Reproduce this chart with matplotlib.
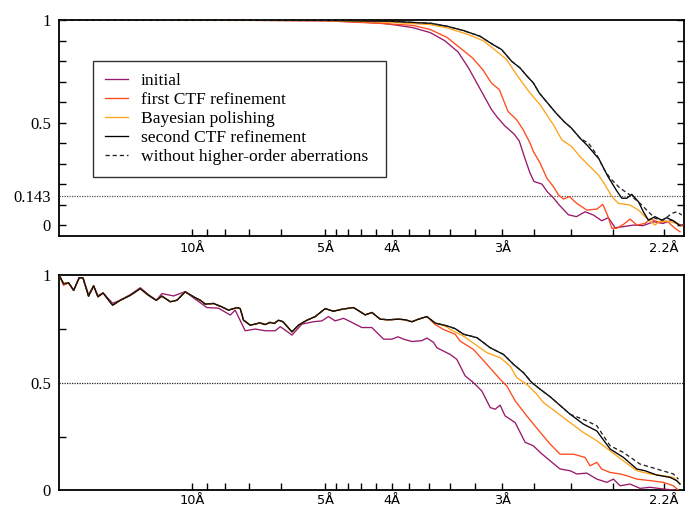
import matplotlib
matplotlib.use('Agg')
import matplotlib.pyplot as plt

# ---------------- data (spatial frequency in 1/Angstrom, FSC) ----------------
# Top panel
init_top_s = [0.0, 0.14, 0.2, 0.215, 0.241, 0.254, 0.266, 0.279, 0.290, 0.300, 0.308, 0.3165,
              0.325, 0.329, 0.335, 0.342, 0.346, 0.350, 0.354, 0.357, 0.363, 0.367, 0.372, 0.376,
              0.383, 0.389, 0.3955, 0.4017, 0.408, 0.413, 0.418, 0.424, 0.432, 0.439, 0.447, 0.454,
              0.461, 0.466, 0.4695]
init_top = [1.0, 1.0, 0.997, 0.994, 0.987, 0.976, 0.964, 0.94, 0.90, 0.845, 0.765, 0.665,
            0.565, 0.53, 0.485, 0.445, 0.41, 0.33, 0.255, 0.213, 0.200, 0.163, 0.13, 0.098,
            0.05, 0.041, 0.065, 0.049, 0.021, 0.036, -0.013, -0.008, 0.0, -0.003, 0.016, 0.008,
            0.024, 0.003, 0.0]

ctf1_top_s = [0.0, 0.15, 0.2, 0.241, 0.266, 0.279, 0.2915, 0.3015, 0.311, 0.3185, 0.325, 0.331,
              0.3375, 0.344, 0.349, 0.3541, 0.3566, 0.3617, 0.3667, 0.3717, 0.3755, 0.3792, 0.3837,
              0.3892, 0.3968, 0.4043, 0.4088, 0.4123, 0.4156, 0.4193, 0.4243, 0.4293, 0.4344,
              0.4406, 0.4444, 0.4519, 0.4569, 0.4632, 0.4669]
ctf1_top = [1.0, 1.0, 0.998, 0.985, 0.975, 0.955, 0.917, 0.865, 0.815, 0.759, 0.694, 0.661,
            0.555, 0.514, 0.465, 0.40, 0.359, 0.302, 0.229, 0.187, 0.147, 0.127, 0.139,
            0.106, 0.073, 0.078, 0.101, 0.049, -0.016, -0.016, 0.003, 0.029, 0.0,
            0.008, 0.029, 0.013, 0.02, -0.016, -0.033]

pol_top_s = [0.0, 0.2, 0.25, 0.2789, 0.2915, 0.3065, 0.319, 0.329, 0.3365, 0.344, 0.354, 0.3617,
             0.3717, 0.378, 0.3855, 0.3917, 0.3992, 0.4055, 0.4105, 0.4156, 0.4205, 0.4293,
             0.4356, 0.4418, 0.4481, 0.4519, 0.4594, 0.4644, 0.4682]
pol_top = [1.0, 0.999, 0.99, 0.979, 0.963, 0.933, 0.90, 0.848, 0.808, 0.734, 0.645, 0.587,
           0.489, 0.416, 0.383, 0.334, 0.285, 0.245, 0.196, 0.139, 0.106, 0.098,
           0.073, 0.033, 0.0, 0.02, 0.016, 0.008, -0.005]

ctf2_top_s = [0.0, 0.2, 0.25, 0.28, 0.2915, 0.304, 0.3165, 0.3253, 0.3327, 0.3402, 0.3466, 0.3517,
              0.3566, 0.3610, 0.3670, 0.3736, 0.3800, 0.3850, 0.3920, 0.3970, 0.4060, 0.4124,
              0.4190, 0.4231, 0.4268, 0.4306, 0.4356, 0.4393, 0.4431, 0.4481, 0.4531, 0.4569,
              0.4619, 0.4669]
ctf2_top = [1.0, 1.0, 0.995, 0.985, 0.971, 0.95, 0.922, 0.885, 0.857, 0.80, 0.767, 0.728,
            0.694, 0.645, 0.598, 0.547, 0.503, 0.475, 0.422, 0.390, 0.322, 0.240,
            0.17, 0.131, 0.131, 0.15, 0.114, 0.065, 0.024, 0.041, 0.024, 0.036,
            0.02, -0.003]

noho_top_s = [0.0, 0.2, 0.25, 0.28, 0.2915, 0.304, 0.3165, 0.3253, 0.3327, 0.3402, 0.3466, 0.3517,
              0.3566, 0.3610, 0.3670, 0.3736, 0.3800, 0.3850, 0.3920, 0.3980, 0.4043, 0.4093,
              0.4143, 0.4218, 0.4293, 0.4368, 0.4431, 0.4481, 0.4544, 0.4607, 0.4644, 0.4682]
noho_top = [1.0, 1.0, 0.995, 0.985, 0.971, 0.95, 0.922, 0.885, 0.857, 0.80, 0.767, 0.728,
            0.694, 0.645, 0.598, 0.547, 0.503, 0.475, 0.422, 0.40, 0.343, 0.277,
            0.229, 0.18, 0.147, 0.106, 0.065, 0.033, 0.024, 0.057, 0.065, 0.049]

# Bottom panel
ctf2_bot_s = [0.0, 0.0032, 0.0070, 0.0108, 0.0150, 0.0178, 0.0220, 0.0258, 0.0291, 0.0329, 0.0401,
              0.0459, 0.0534, 0.0609, 0.0671, 0.0729, 0.0772, 0.0835, 0.0885, 0.0947, 0.1010,
              0.1060, 0.1098, 0.1160, 0.1223, 0.1273, 0.1336, 0.1361, 0.1386, 0.1436, 0.1474,
              0.1506, 0.1549, 0.1586, 0.1617, 0.1649, 0.1682, 0.1750, 0.1799, 0.1862, 0.1925,
              0.2000, 0.2062, 0.2126, 0.2213, 0.2301, 0.2351, 0.2414, 0.2476, 0.2551, 0.2602,
              0.2652, 0.2702, 0.2765, 0.2827, 0.2915, 0.2977, 0.3040, 0.3141, 0.3241, 0.3341,
              0.3416, 0.3491, 0.3554, 0.3617, 0.3692, 0.3742, 0.3842, 0.3942, 0.4043, 0.4143,
              0.4243, 0.4344, 0.4406, 0.4494, 0.4594, 0.4644, 0.4669]
ctf2_bot = [1.0, 0.961, 0.965, 0.930, 0.989, 0.988, 0.903, 0.951, 0.900, 0.918, 0.861,
            0.884, 0.907, 0.938, 0.907, 0.884, 0.903, 0.877, 0.884, 0.923, 0.900,
            0.884, 0.866, 0.869, 0.853, 0.838, 0.850, 0.845, 0.791, 0.768, 0.773,
            0.779, 0.771, 0.781, 0.776, 0.791, 0.784, 0.737, 0.768, 0.791, 0.808,
            0.845, 0.833, 0.842, 0.850, 0.816, 0.827, 0.796, 0.793, 0.796, 0.793,
            0.784, 0.796, 0.808, 0.778, 0.765, 0.752, 0.726, 0.71, 0.663, 0.632,
            0.586, 0.547, 0.501, 0.47, 0.435, 0.408, 0.354, 0.308, 0.276, 0.192,
            0.153, 0.099, 0.091, 0.071, 0.060, 0.045, 0.029]

noho_bot_s = ctf2_bot_s[:68] + [0.3967, 0.4043, 0.4143, 0.4243, 0.4368, 0.4494, 0.4619, 0.4657]
noho_bot = ctf2_bot[:68] + [0.323, 0.30, 0.207, 0.176, 0.122, 0.099, 0.076, 0.052]

pol_bot_s = ctf2_bot_s[:55] + [0.2915, 0.2940, 0.3040, 0.3216, 0.3316, 0.3391, 0.3441, 0.3516,
                               0.3591, 0.3642, 0.3692, 0.3742, 0.3842, 0.3942, 0.4043, 0.4143,
                               0.4243, 0.4344, 0.4444, 0.4544, 0.4619, 0.4669]
pol_bot = ctf2_bot[:55] + [0.760, 0.748, 0.717, 0.64, 0.617, 0.578, 0.524, 0.493,
                           0.447, 0.408, 0.385, 0.362, 0.315, 0.269, 0.23, 0.184,
                           0.137, 0.091, 0.076, 0.068, 0.06, 0.029]

ctf1_bot_s = ctf2_bot_s[:55] + [0.2890, 0.2977, 0.3015, 0.3115, 0.3216, 0.3316, 0.3366, 0.3429,
                                0.3516, 0.3617, 0.3692, 0.3767, 0.3867, 0.3955, 0.3992, 0.4043,
                                0.4080, 0.4143, 0.4218, 0.4268, 0.4344, 0.4444, 0.4544, 0.4619,
                                0.4657]
ctf1_bot = [1.0, 0.954] + ctf2_bot[2:54] + [0.771, 0.748, 0.726, 0.694, 0.655, 0.586, 0.516,
                                            0.485, 0.416, 0.346, 0.27, 0.215, 0.168, 0.168,
                                            0.153, 0.114, 0.13, 0.099, 0.083, 0.076, 0.068,
                                            0.052, 0.045, 0.037, 0.021, 0.0]

init_bot_s = [0.0, 0.0032, 0.0070, 0.0108, 0.0150, 0.0178, 0.0220, 0.0258, 0.0291, 0.0329, 0.0401,
              0.0459, 0.0534, 0.0609, 0.0671, 0.0730, 0.0772, 0.0860, 0.0947, 0.1023, 0.1110,
              0.1198, 0.1286, 0.1323, 0.1398, 0.1474, 0.1549, 0.1624, 0.1662, 0.1699, 0.1750,
              0.1825, 0.1912, 0.1975, 0.2025, 0.2075, 0.2138, 0.2213, 0.2276, 0.2351, 0.2439,
              0.2502, 0.2547, 0.2589, 0.2652, 0.2727, 0.2765, 0.2815, 0.2840, 0.2940, 0.2990,
              0.3053, 0.3115, 0.3178, 0.3241, 0.3278, 0.3316, 0.3353, 0.3429, 0.3504, 0.3566,
              0.3617, 0.3692, 0.3767, 0.3842, 0.3892, 0.3967, 0.4043, 0.4118, 0.4168, 0.4218,
              0.4293, 0.4368, 0.4444, 0.4544, 0.4644, 0.4669]
init_bot = [1.0, 0.955, 0.965, 0.930, 0.989, 0.988, 0.910, 0.951, 0.905, 0.918, 0.870,
            0.884, 0.910, 0.942, 0.910, 0.884, 0.915, 0.904, 0.924, 0.889, 0.85,
            0.847, 0.815, 0.838, 0.742, 0.75, 0.742, 0.742, 0.761, 0.745, 0.722,
            0.773, 0.784, 0.788, 0.808, 0.788, 0.80, 0.777, 0.757, 0.757, 0.703,
            0.703, 0.714, 0.703, 0.692, 0.696, 0.708, 0.688, 0.663, 0.632, 0.609,
            0.532, 0.501, 0.462, 0.385, 0.377, 0.396, 0.346, 0.315, 0.223, 0.207,
            0.176, 0.137, 0.099, 0.091, 0.076, 0.08, 0.052, 0.037, 0.052, 0.021,
            0.029, 0.009, 0.014, 0.006, 0.0, -0.01]

labels = ['initial', 'first CTF refinement', 'Bayesian polishing', 'second CTF refinement',
          'without higher-order aberrations']

tick_res_major = [10, 5, 4, 3, 2.2]
tick_labels_major = ['10Å', '5Å', '4Å', '3Å', '2.2Å']
tick_res_minor = [9, 8, 7, 6, 4.8, 4.6, 4.4, 4.2, 3.8, 3.6, 3.4, 3.2, 2.8, 2.6, 2.4]

# ---------------- styling ----------------
colors = ['#97196b', '#ff4a1c', '#ffa31a', '#000000', '#222222']
serif = ['Liberation Serif', 'DejaVu Serif']
sans = ['DejaVu Sans']

fig = plt.figure(figsize=(6.9, 5.08), dpi=100)
ax1 = fig.add_axes([59.3 / 690, 1 - 235.7 / 508, 624.2 / 690, 215.4 / 508])
ax2 = fig.add_axes([59.3 / 690, 1 - 490.3 / 508, 624.2 / 690, 215.0 / 508])

top_series = [(init_top_s, init_top), (ctf1_top_s, ctf1_top), (pol_top_s, pol_top),
              (ctf2_top_s, ctf2_top), (noho_top_s, noho_top)]
bot_series = [(init_bot_s, init_bot), (ctf1_bot_s, ctf1_bot), (pol_bot_s, pol_bot),
              (ctf2_bot_s, ctf2_bot), (noho_bot_s, noho_bot)]

def draw(ax, series, xpad):
    handles = []
    for i, (xs, ys) in enumerate(series):
        ls = (0, (3.2, 2.2)) if i == 4 else '-'
        h, = ax.plot(xs, ys, color=colors[i], lw=0.95, ls=ls, label=labels[i],
                     zorder=3 + (i if i < 4 else 3.5))
        handles.append(h)
    ax.set_xlim(0, 0.4695)
    ax.set_xticks([1.0 / r for r in tick_res_major])
    ax.set_xticklabels(tick_labels_major, family=sans, fontsize=9.3)
    ax.set_xticks([1.0 / r for r in tick_res_minor], minor=True)
    ax.tick_params(axis='x', which='both', direction='in', length=5, width=1.0,
                   top=False, bottom=True, pad=xpad)
    for sp in ax.spines.values():
        sp.set_linewidth(1.3)
    return handles

handles = draw(ax1, top_series, 4.8)
draw(ax2, bot_series, 2.6)

# top panel y axis
ax1.set_ylim(-0.052, 1.0)
ax1.axhline(0.143, color='#555555', lw=0.9, ls=(0, (1, 1)), zorder=2)
ax1.set_yticks([0, 0.143, 0.5, 1])
ax1.set_yticklabels(['0', '0.143', '0.5', '1'], family=serif, fontsize=12)
ax1.set_yticks([0.1 * k for k in range(11)], minor=True)
ax1.yaxis.remove_overlapping_locs = False
ax1.tick_params(axis='y', which='major', length=0, pad=6)
ax1.tick_params(axis='y', which='minor', direction='in', length=5, width=1.0,
                left=True, right=True)

# bottom panel y axis
ax2.set_ylim(0, 1.0)
ax2.axhline(0.5, color='#222222', lw=0.9, ls=(0, (1, 1)), zorder=2)
ax2.set_yticks([0, 0.5, 1])
ax2.set_yticklabels(['0', '0.5', '1'], family=serif, fontsize=12)
ax2.set_yticks([0.25, 0.75], minor=True)
ax2.tick_params(axis='y', which='major', length=0, pad=6)
ax2.tick_params(axis='y', which='minor', direction='in', length=5, width=1.0,
                left=True, right=False)

leg = ax1.legend(handles=handles, loc='upper left', bbox_to_anchor=(0.0537, 0.812, 0.470, 0.0),
                 mode='expand', prop={'family': serif, 'size': 12.6}, frameon=True,
                 fancybox=False, edgecolor='#333333', framealpha=1, handlelength=1.32,
                 handletextpad=0.76, borderpad=0.68, labelspacing=0.16, borderaxespad=0)
leg.get_frame().set_linewidth(1.0)

fig.savefig('out.png', dpi=100)
